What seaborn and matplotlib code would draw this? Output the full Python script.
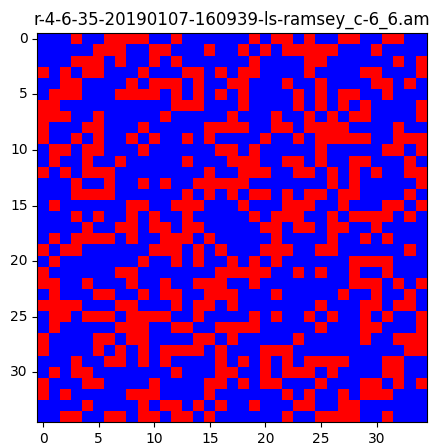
import numpy as np
import matplotlib
matplotlib.use("Agg")
import matplotlib.pyplot as plt
import seaborn as sns
from matplotlib.colors import ListedColormap

title = "r-4-6-35-20190107-160939-ls-ramsey_c-6_6.am"
n_vertices = 35

# neighbours with a higher index, for each vertex (the matrix is symmetric)
neighbours = {
    0: [3, 6, 7, 8, 9, 12, 19, 21, 22, 24, 27, 28, 31, 32],
    1: [5, 6, 7, 10, 11, 15, 18, 20, 22, 23, 24, 25, 26, 30],
    2: [3, 4, 5, 7, 10, 12, 19, 24, 25, 32, 34],
    3: [4, 5, 9, 13, 14, 16, 18, 19, 24, 29, 30, 34],
    4: [8, 10, 11, 12, 14, 17, 18, 22, 25, 30, 31, 33],
    5: [7, 8, 9, 10, 12, 14, 16, 18, 23, 25, 27, 28, 31],
    6: [12, 13, 14, 18, 23, 25, 27, 29, 34],
    7: [11, 17, 21, 24, 26, 28, 29, 34],
    8: [9, 15, 16, 17, 18, 21, 22, 24, 25, 26, 27, 32],
    9: [10, 13, 15, 20, 23, 25, 26, 27, 28, 29, 32, 33, 34],
    10: [16, 17, 19, 25, 31, 32, 34],
    11: [13, 17, 18, 19, 22, 23, 25, 28, 29, 33],
    12: [15, 18, 19, 20, 23, 24, 26, 28, 30, 33, 34],
    13: [14, 15, 16, 17, 18, 26, 28, 34],
    14: [15, 17, 19, 20, 22, 24, 25, 27, 28, 33],
    15: [18, 22, 23, 24, 27, 31, 32, 34],
    16: [19, 21, 22, 23, 26, 28, 29, 30, 31, 33],
    17: [20, 21, 23, 24, 26, 27, 30],
    18: [21, 26, 29, 31],
    19: [20, 21, 22, 25, 26, 33],
    20: [21, 28, 29, 30, 31],
    21: [23, 25, 28, 31],
    22: [28, 29, 30, 32, 34],
    23: [27, 30, 33],
    24: [25, 29, 30, 32, 33],
    25: [26, 29, 31, 34],
    26: [29, 30, 34],
    27: [29, 32, 33, 34],
    28: [33, 34],
    29: [31, 32],
    30: [31, 32],
    31: [32, 34],
}
tick_values = [0, 5, 10, 15, 20, 25, 30]

adj = np.zeros((n_vertices, n_vertices), dtype=int)
for v, nb in neighbours.items():
    for u in nb:
        adj[v, u] = 1
        adj[u, v] = 1

fig = plt.figure(figsize=(4.42, 4.45), dpi=100)
ax = fig.add_axes([0.0848, 0.051, 0.8806, 0.8742])
sns.heatmap(adj, cmap=ListedColormap(["blue", "red"]), cbar=False,
            square=False, ax=ax, vmin=0, vmax=1)

ax.set_xticks([t + 0.5 for t in tick_values])
ax.set_xticklabels([str(t) for t in tick_values], rotation=0, fontsize=10)
ax.set_yticks([t + 0.5 for t in tick_values])
ax.set_yticklabels([str(t) for t in tick_values], rotation=0, fontsize=10)
ax.tick_params(length=3.5, width=0.8)
for s in ax.spines.values():
    s.set_visible(True)
    s.set_linewidth(0.8)
ax.set_title(title, fontsize=12)

fig.savefig("out.png", dpi=100)
